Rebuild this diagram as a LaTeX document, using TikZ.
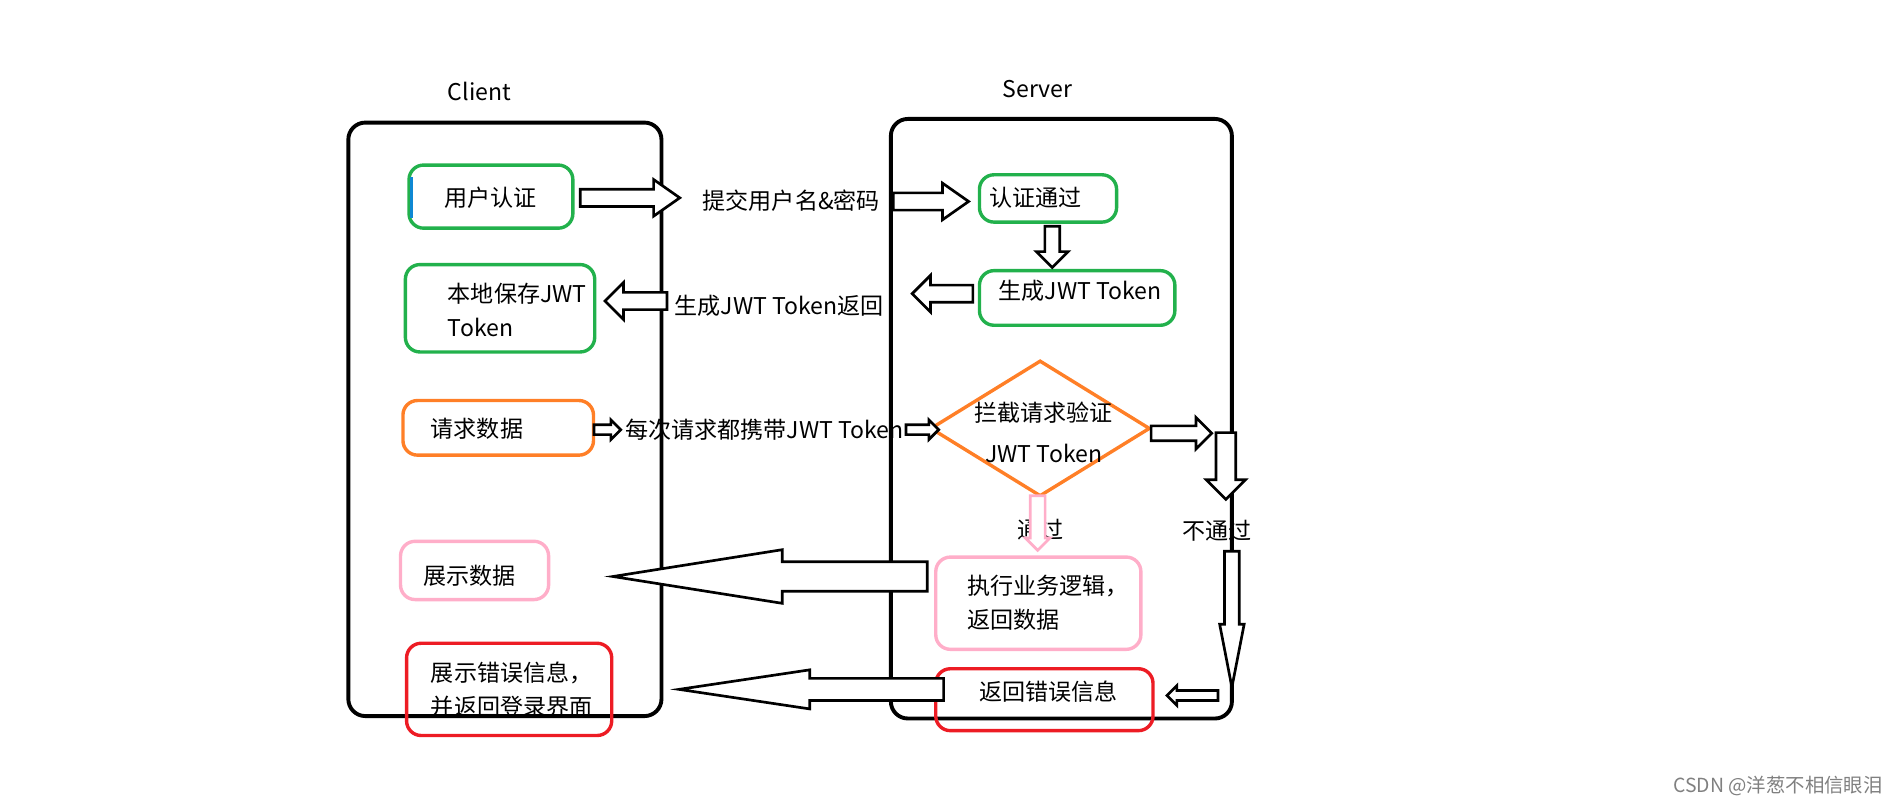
\documentclass[tikz,border=0pt]{standalone}
\usepackage{fontspec}
\setmainfont{Noto Sans CJK SC}
\usetikzlibrary{shapes.arrows,shapes.geometric,calc}
\definecolor{gr}{RGB}{34,177,76}
\definecolor{og}{RGB}{255,127,39}
\definecolor{pk}{RGB}{255,174,201}
\definecolor{rd}{RGB}{237,28,36}
\begin{document}
\begin{tikzpicture}[x=0.5pt,y=-0.5pt,
  every node/.style={font=\fontsize{9.5}{14}\selectfont},
  frame/.style={draw=black,line width=1.6pt,rounded corners=7pt},
  box/.style={line width=1.4pt,rounded corners=6pt},
  lbl/.style={align=left,anchor=west}]
\useasboundingbox (0,0) rectangle (1563,663);
\newcommand{\blk}[6]{\path let \p1=($(#2)-(#1)$), \n1={veclen(\x1,\y1)} in (#1) -- (#2)
  node[pos=1,anchor=tip,sloped,allow upside down,single arrow,draw=#5,line width=1.1pt,fill=white,
  minimum height=\n1,minimum width=0pt,inner sep=#3*0.25pt,single arrow head extend=#4*0.5pt,
  single arrow tip angle=#6,shape border rotate=0]{};}
\node (cl) at (395,75) {Client};
\node (sv) at (855,73) {Server};
\draw[frame] (287,101) rectangle (545,590);
\draw[frame] (734,98) rectangle (1015,592);
% boxes
\draw[box,draw=gr] (337,136) rectangle (472,188);
\draw[line width=1.4pt,draw=cyan!70!blue] (339,146) -- (339,180);
\node (ua) at (404,163) {用户认证};
\draw[box,draw=gr] (807,144) rectangle (920,183); \node (rz) at (853,163) {认证通过};
\draw[box,draw=gr] (807,223) rectangle (968,268); \node (sc) at (890,240) {生成JWT Token};
\draw[box,draw=gr] (334,218) rectangle (490,290); \node[lbl] (bd) at (362,255) {本地保存JWT\\Token};
\draw[box,draw=og] (332,330) rectangle (489,375); \node (qq) at (393,353) {请求数据};
\node[diamond,draw=og,line width=1.4pt,minimum width=181*0.5pt,minimum height=112*0.5pt,aspect=1.6,inner sep=0] (dm) at (857,353) {};
\node at (860,340) {拦截请求验证}; \node at (860,374) {JWT Token};
\draw[box,draw=pk] (771,459) rectangle (940,535); \node[lbl] (zx) at (790,497) {执行业务逻辑，\\返回数据};
\draw[box,draw=pk] (330,446) rectangle (452,494); \node (zs) at (387,474) {展示数据};
\draw[box,draw=rd] (771,551) rectangle (950,602); \node (fh) at (864,570) {返回错误信息};
\draw[box,draw=rd] (335,530) rectangle (504,606); \node[lbl] (cw) at (348,568) {展示错误信息，\\并返回登录界面};
% labels
\node at (652,165) {提交用户名\&密码};
\node at (642,252) {生成JWT Token返回};
\node at (630,354) {每次请求都携带JWT Token};
\node at (857,436) {通过};
\node at (1003,437) {不通过};
\node[text=gray,font=\fontsize{8}{10}\selectfont] at (1465,648) {CSDN @洋葱不相信眼泪};
% arrows
\coordinate (a1) at (480,163); \coordinate (a2) at (562,163); \blk{a1}{a2}{12}{8}{black}{70}
\coordinate (b1) at (738,166); \coordinate (b2) at (800,166); \blk{b1}{b2}{12}{8}{black}{70}
\coordinate (c1) at (867,188); \coordinate (c2) at (867,222); \blk{c1}{c2}{10}{7}{black}{90}
\coordinate (d1) at (800,242); \coordinate (d2) at (750,242); \blk{d1}{d2}{12}{8}{black}{90}
\coordinate (e1) at (548,248); \coordinate (e2) at (497,248); \blk{e1}{e2}{12}{8}{black}{90}
\coordinate (f1) at (491,354); \coordinate (f2) at (513,354); \blk{f1}{f2}{6}{4}{black}{90}
\coordinate (g1) at (748,354); \coordinate (g2) at (775,354); \blk{g1}{g2}{6}{4}{black}{90}
\coordinate (h1) at (950,357); \coordinate (h2) at (1000,357); \blk{h1}{h2}{10}{7}{black}{90}
\coordinate (i1) at (1010,358); \coordinate (i2) at (1010,413); \blk{i1}{i2}{14}{8}{black}{90}
\coordinate (j1) at (855,410); \coordinate (j2) at (855,455); \blk{j1}{j2}{10}{4}{pk}{90}
\coordinate (k1) at (757,475); \coordinate (k2) at (498,475); \blk{k1}{k2}{22}{10}{black}{18}
\coordinate (l1) at (1015,460); \coordinate (l2) at (1015,572); \blk{l1}{l2}{10}{4}{black}{22}
\coordinate (m1) at (1002,573); \coordinate (m2) at (960,573); \blk{m1}{m2}{6}{4}{black}{90}
\coordinate (n1) at (770,568); \coordinate (n2) at (552,568); \blk{n1}{n2}{16}{7}{black}{17}
\end{tikzpicture}
\end{document}
